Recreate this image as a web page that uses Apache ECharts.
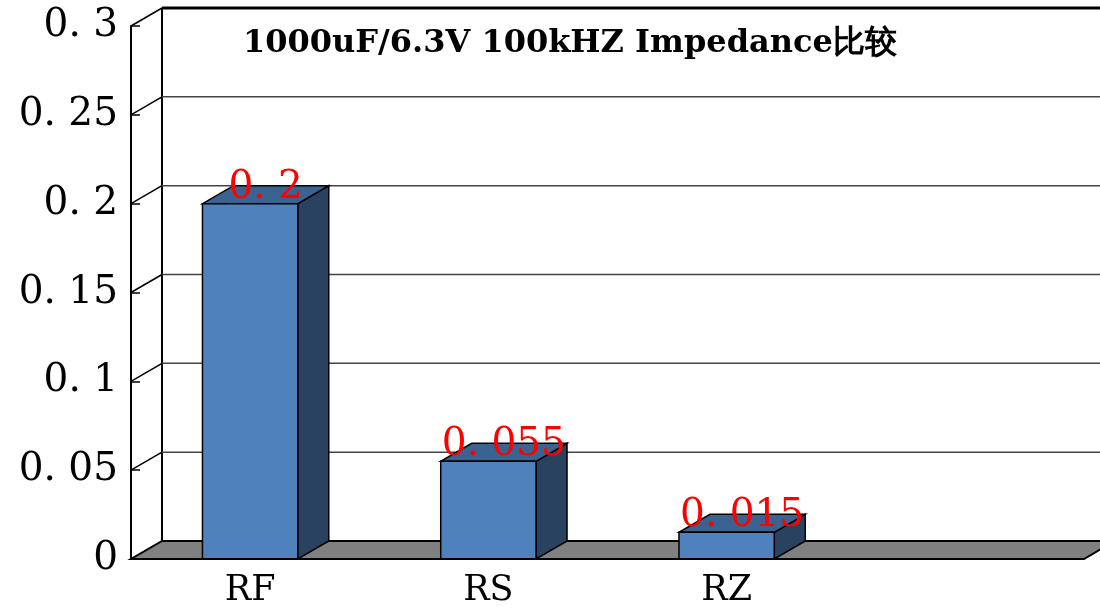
<!DOCTYPE html>
<html lang="en">
<head>
    <meta charset="UTF-8">
    <title>Impedance</title>
    <script src="https://cdn.jsdelivr.net/npm/echarts@6/dist/echarts.min.js"></script>
    <style>
        body { margin: 0; background: #fff; }
    </style>
</head>
<body>
    <div id="main" style="width: 1100px;height:608px;"></div>
    <script type="text/javascript">
        // 数据
        var categories = ['RF', 'RS', 'RZ', ''];
        var values = [0.2, 0.055, 0.015];
        var yTicks = [0, 0.05, 0.1, 0.15, 0.2, 0.25, 0.3];
        var titleText = '1000uF/6.3V 100kHZ Impedance比较';

        // 立体偏移
        var DX = 31, DY = -18;

        function fmt(v) {
            return String(v).replace('.', '. ');
        }

        var myChart = echarts.init(document.getElementById('main'));

        var option = {
            animation: false,
            title: {
                text: titleText,
                left: 238,
                top: 23,
                textStyle: {
                    fontFamily: 'DejaVu Serif',
                    fontWeight: 'bold',
                    fontSize: 32,
                    color: '#000'
                }
            },
            grid: {
                left: 131,
                right: 16,
                top: 26,
                bottom: 48
            },
            xAxis: {
                type: 'category',
                data: categories,
                z: 10,
                axisLine: { lineStyle: { color: '#000', width: 2 } },
                axisTick: { inside: true, length: 8, lineStyle: { color: '#000', width: 1.5 } },
                axisLabel: {
                    margin: 14,
                    fontFamily: 'DejaVu Serif',
                    fontSize: 35,
                    color: '#000'
                }
            },
            yAxis: {
                type: 'value',
                min: 0,
                max: 0.3,
                interval: 0.05,
                z: 10,
                axisLine: { show: true, lineStyle: { color: '#000', width: 2 } },
                axisTick: { show: true, inside: true, length: 9, lineStyle: { color: '#000', width: 1.5 } },
                splitLine: { show: false },
                axisLabel: {
                    margin: 13,
                    fontFamily: 'DejaVu Serif',
                    fontSize: 39,
                    color: '#000',
                    formatter: fmt
                }
            },
            series: [
                {
                    // 背景墙和地板
                    type: 'custom',
                    clip: false,
                    z: 1,
                    data: yTicks.map(function (v) { return [categories[0], v]; }),
                    renderItem: function (params, api) {
                        var cs = params.coordSys;
                        var v = api.value(1);
                        var y = api.coord([api.value(0), v])[1];
                        var x0 = cs.x, x1 = cs.x + cs.width;
                        var children = [];
                        if (v === 0) {
                            children.push({
                                type: 'polygon',
                                shape: { points: [[x0, y], [x1, y], [x1 + DX, y + DY], [x0 + DX, y + DY]] },
                                style: { fill: '#808080', stroke: '#000', lineWidth: 2 }
                            });
                            children.push({
                                type: 'line',
                                shape: { x1: x0 + DX, y1: y + DY, x2: x0 + DX, y2: cs.y + DY },
                                style: { stroke: '#000', lineWidth: 2 }
                            });
                        } else {
                            var isTop = v === yTicks[yTicks.length - 1];
                            children.push({
                                type: 'line',
                                shape: { x1: x0, y1: y, x2: x0 + DX, y2: y + DY },
                                style: { stroke: '#000', lineWidth: 1.5 }
                            });
                            children.push({
                                type: 'line',
                                shape: { x1: x0 + DX, y1: y + DY, x2: x1 + DX + 20, y2: y + DY },
                                style: { stroke: isTop ? '#000' : '#444', lineWidth: isTop ? 3 : 1.5 }
                            });
                        }
                        return { type: 'group', children: children };
                    }
                },
                {
                    // 立体柱子
                    type: 'custom',
                    clip: false,
                    z: 3,
                    data: values.map(function (v, i) { return [categories[i], v]; }),
                    renderItem: function (params, api) {
                        var t = api.coord([api.value(0), api.value(1)]);
                        var b = api.coord([api.value(0), 0]);
                        var bw = api.size([1, 0])[0] * 0.4;
                        var l = t[0] - bw / 2, r = t[0] + bw / 2;
                        var ty = t[1], by = b[1];
                        return {
                            type: 'group',
                            children: [
                                {
                                    type: 'polygon',
                                    shape: { points: [[r, ty], [r + DX, ty + DY], [r + DX, by + DY], [r, by]] },
                                    style: { fill: '#29425f', stroke: '#000', lineWidth: 1.5 }
                                },
                                {
                                    type: 'polygon',
                                    shape: { points: [[l, ty], [r, ty], [r + DX, ty + DY], [l + DX, ty + DY]] },
                                    style: { fill: '#3b6391', stroke: '#000', lineWidth: 1.5 }
                                },
                                {
                                    type: 'rect',
                                    shape: { x: l, y: ty, width: bw, height: by - ty },
                                    style: { fill: '#4f81bd', stroke: '#000', lineWidth: 1.5 }
                                },
                                {
                                    type: 'text',
                                    x: t[0] + DX / 2,
                                    y: ty + DY + 2,
                                    style: {
                                        text: fmt(api.value(1)),
                                        fill: '#ff0000',
                                        font: '39px "DejaVu Serif"',
                                        align: 'center',
                                        verticalAlign: 'middle'
                                    }
                                }
                            ]
                        };
                    }
                }
            ]
        };

        myChart.setOption(option);
    </script>
</body>
</html>
